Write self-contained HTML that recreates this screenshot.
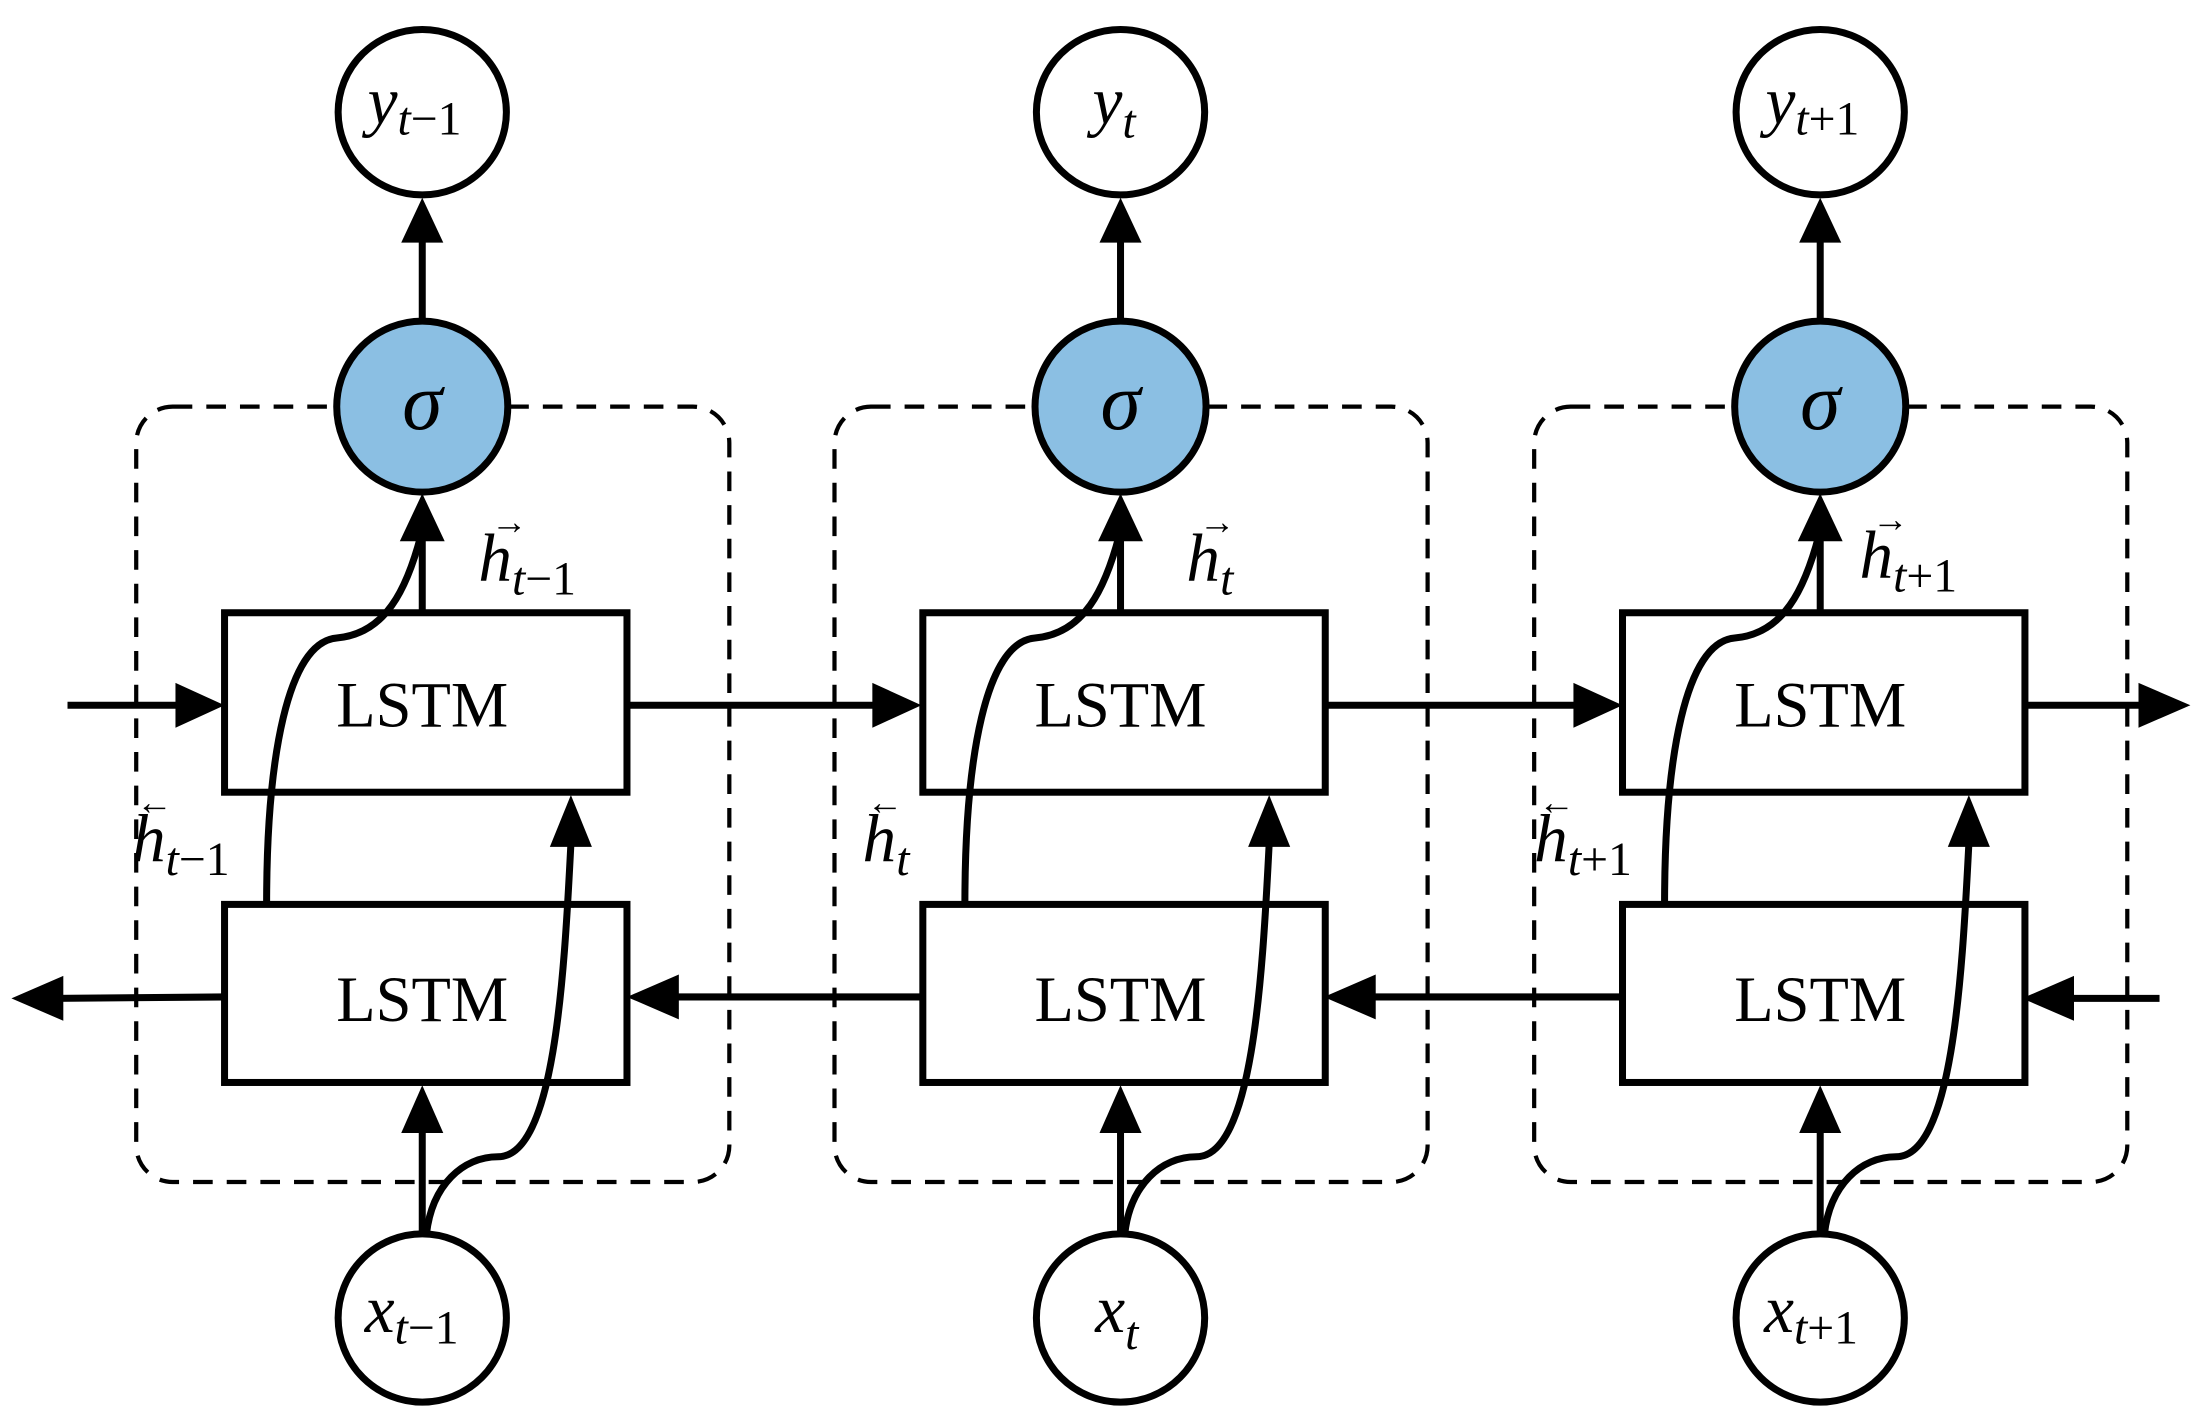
<!DOCTYPE html>
<html><head><meta charset="utf-8"><style>
html,body{margin:0;padding:0;background:#fff}
svg{display:block}
text{font-family:"Liberation Serif",serif;fill:#000}
.m{font-style:italic}
.n{font-style:normal}
</style></head><body>
<svg width="2199" height="1426" viewBox="0 0 1568 1017" xmlns="http://www.w3.org/2000/svg">
<defs>
<g id="col">
  <rect x="97" y="290" width="423" height="553" rx="26" fill="none" stroke="#000" stroke-width="3" stroke-dasharray="14 10"/>
  <ellipse cx="301" cy="80" rx="60" ry="59" fill="#fff" stroke="#000" stroke-width="5"/>
  <line x1="301" y1="229" x2="301" y2="168" stroke="#000" stroke-width="5"/>
  <polygon points="301,141 286,173 316,173" fill="#000"/>
  <ellipse cx="301" cy="290" rx="61" ry="61" fill="#8bbfe3" stroke="#000" stroke-width="5"/>
  <text x="301" y="306" font-size="58" text-anchor="middle" class="m">σ</text>
  <rect x="160" y="437" width="287" height="128" fill="#fff" stroke="#000" stroke-width="5"/>
  <rect x="160" y="645" width="287" height="127" fill="#fff" stroke="#000" stroke-width="5"/>
  <text x="301" y="518" font-size="46" text-anchor="middle">LSTM</text>
  <text x="301" y="728" font-size="46" text-anchor="middle">LSTM</text>
  <line x1="301" y1="437" x2="301" y2="380" stroke="#000" stroke-width="5"/>
  <polygon points="301,352 285,386 317,386" fill="#000"/>
  <path d="M190,645 C190,540 205,458 240,455 C275,452 290,420 300,382" fill="none" stroke="#000" stroke-width="5"/>
  <line x1="301" y1="880" x2="301" y2="805" stroke="#000" stroke-width="5"/>
  <polygon points="301,774 286,808 316,808" fill="#000"/>
  <path d="M304,880 C308,845 330,825 355,825 C395,825 402,700 407,602" fill="none" stroke="#000" stroke-width="5"/>
  <polygon points="407,567 392,604 422,604" fill="#000"/>
  <ellipse cx="301" cy="940" rx="60" ry="60" fill="#fff" stroke="#000" stroke-width="5"/>
</g>
</defs>
<use href="#col"/>
<use href="#col" x="498"/>
<use href="#col" x="997"/>

<g stroke="#000" stroke-width="5">
<line x1="48" y1="503" x2="130" y2="503"/>
<line x1="447" y1="503" x2="627" y2="503"/>
<line x1="944" y1="503" x2="1127" y2="503"/>
<line x1="1442" y1="503" x2="1530" y2="503"/>
<line x1="160" y1="711" x2="40" y2="712"/>
<line x1="657" y1="711" x2="480" y2="711"/>
<line x1="1157" y1="711" x2="977" y2="711"/>
<line x1="1540" y1="712" x2="1475" y2="712"/>
</g>
<g fill="#000">
<polygon points="160,503 125,487 125,519"/>
<polygon points="657,503 622,487 622,519"/>
<polygon points="1157,503 1122,487 1122,519"/>
<polygon points="1562,503 1525,487 1525,519"/>
<polygon points="8,712 45,696 45,728"/>
<polygon points="447,711 484,695 484,727"/>
<polygon points="944,711 981,695 981,727"/>
<polygon points="1442,712 1479,696 1479,728"/>
</g>

<g class="m" font-size="48">
<text x="262" y="88">y<tspan font-size="34" dy="8">t<tspan class="n">−1</tspan></tspan></text>
<text x="779" y="88">y<tspan font-size="34" dy="10">t</tspan></text>
<text x="1259" y="88">y<tspan font-size="34" dy="8">t<tspan class="n">+1</tspan></tspan></text>
<text x="260" y="950">x<tspan font-size="34" dy="8">t<tspan class="n">−1</tspan></tspan></text>
<text x="781" y="950">x<tspan font-size="34" dy="12">t</tspan></text>
<text x="1258" y="950">x<tspan font-size="34" dy="8">t<tspan class="n">+1</tspan></tspan></text>
</g>

<g class="m" font-size="48">
<text x="341" y="414">h<tspan font-size="34" dy="10">t<tspan class="n">−1</tspan></tspan></text>
<text x="846" y="414">h<tspan font-size="34" dy="10">t</tspan></text>
<text x="1326" y="412">h<tspan font-size="34" dy="10">t<tspan class="n">+1</tspan></tspan></text>
<text x="94" y="614">h<tspan font-size="34" dy="10">t<tspan class="n">−1</tspan></tspan></text>
<text x="615" y="614">h<tspan font-size="34" dy="10">t</tspan></text>
<text x="1094" y="614">h<tspan font-size="34" dy="10">t<tspan class="n">+1</tspan></tspan></text>
</g>
<g font-size="26">
<text x="350" y="381">→</text>
<text x="855" y="381">→</text>
<text x="1335" y="379">→</text>
<text x="97" y="581">←</text>
<text x="618" y="581">←</text>
<text x="1097" y="581">←</text>
</g>
</svg>
</body></html>
